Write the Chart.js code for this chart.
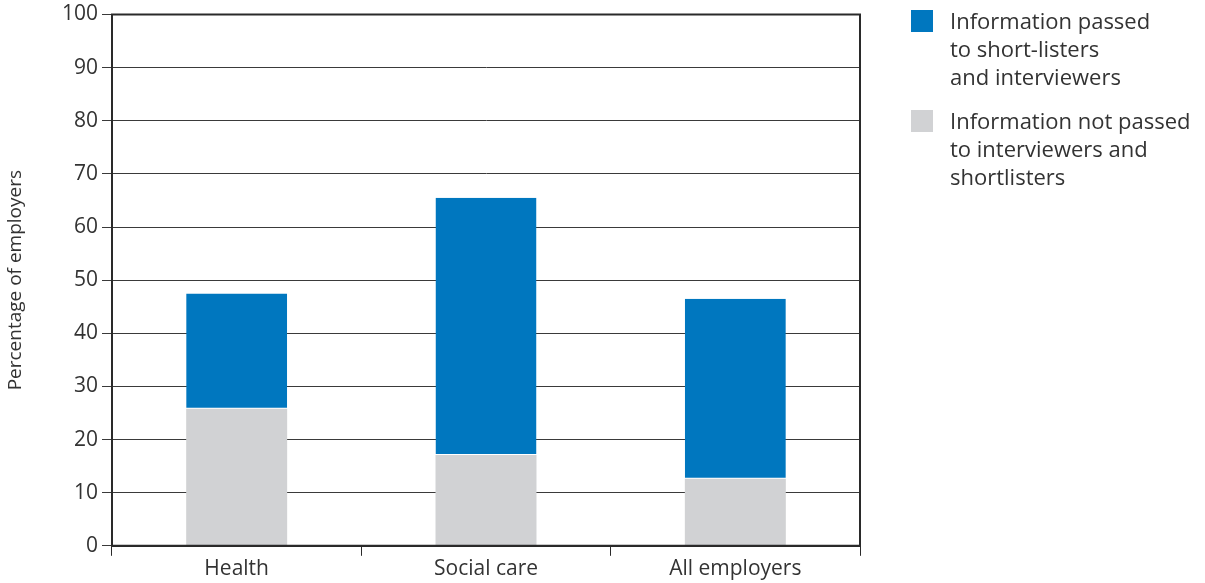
<!DOCTYPE html>
<html>
<head>
<meta charset="utf-8">
<script src="https://cdn.jsdelivr.net/npm/chart.js@4/dist/chart.umd.min.js"></script>
<style>
  html, body { margin: 0; padding: 0; background: #fff; }
  #wrap { position: relative; width: 1205px; height: 583px; }
  #c { position: absolute; left: 0; top: 0; }
  .legend { position: absolute; left: 911px; top: 6px; font-family: "Open Sans", sans-serif; font-size: 22px; color: #333; line-height: 28px; }
  .item { position: relative; padding-left: 39px; margin-bottom: 16px; white-space: nowrap; }
  .box { position: absolute; left: 0; top: 4px; width: 22px; height: 22px; }
</style>
</head>
<body>
<div id="wrap">
  <canvas id="c" width="1205" height="583"></canvas>
  <div class="legend" id="legend"></div>
</div>
<script>
const categories = ["Health", "Social care", "All employers"];
const passedValues = [21.7, 48.4, 33.9];
const notPassedValues = [25.8, 17.1, 12.6];
const seriesNames = [
  ["Information passed", "to short-listers", "and interviewers"],
  ["Information not passed", "to interviewers and", "shortlisters"]
];
const seriesColors = ["#0077BF", "#D1D2D4"];
const yTicks = [0, 10, 20, 30, 40, 50, 60, 70, 80, 90, 100];
const yTitle = "Percentage of employers";

// HTML legend
const leg = document.getElementById('legend');
seriesNames.forEach((lines, i) => {
  const d = document.createElement('div');
  d.className = 'item';
  const b = document.createElement('div');
  b.className = 'box';
  b.style.background = seriesColors[i];
  d.appendChild(b);
  lines.forEach(t => { const l = document.createElement('div'); l.textContent = t; d.appendChild(l); });
  leg.appendChild(d);
});

const frame = {
  id: 'frame',
  afterDatasetsDraw(chart) {
    const a = chart.chartArea, ctx = chart.ctx;
    ctx.save();
    ctx.strokeStyle = '#2a2a2a';
    ctx.lineWidth = 2;
    ctx.beginPath();
    ctx.moveTo(a.left, a.bottom);
    ctx.lineTo(a.left, a.top);
    ctx.lineTo(a.right, a.top);
    ctx.lineTo(a.right, a.bottom);
    ctx.lineTo(a.left, a.bottom);
    ctx.stroke();
    ctx.restore();
  }
};

const font = { family: '"Open Sans", sans-serif', size: 21 };
const yFont = { family: '"Open Sans", sans-serif', size: 21, lineHeight: 1.0 };

new Chart(document.getElementById('c'), {
  type: 'bar',
  data: {
    labels: categories,
    datasets: [
      { label: seriesNames[1].join(' '), data: notPassedValues, backgroundColor: seriesColors[1],
        borderWidth: 0, barPercentage: 0.405, categoryPercentage: 1.0 },
      { label: seriesNames[0].join(' '), data: passedValues, backgroundColor: seriesColors[0],
        borderColor: '#ffffff', borderWidth: { bottom: 1, top: 0, left: 0, right: 0 }, borderSkipped: false,
        barPercentage: 0.405, categoryPercentage: 1.0 }
    ]
  },
  options: {
    responsive: false,
    animation: false,
    layout: { padding: { top: 12, right: 345, bottom: 0, left: 4 } },
    plugins: { legend: { display: false }, tooltip: { enabled: false } },
    scales: {
      x: {
        stacked: true,
        grid: { offset: true, drawOnChartArea: false, tickLength: 10, color: '#2a2a2a', lineWidth: 1 },
        border: { display: true, color: '#2a2a2a', width: 2 },
        ticks: { font: font, color: '#333', padding: 1 }
      },
      y: {
        stacked: true,
        min: 0, max: 100,
        afterBuildTicks(axis) { axis.ticks = yTicks.map(v => ({ value: v })); },
        afterFit(axis) { axis.width = 108; },
        grid: { color: '#3a3a3a', lineWidth: 1, tickLength: 10 },
        border: { display: true, color: '#2a2a2a', width: 2 },
        ticks: { font: yFont, color: '#333', padding: 4 },
        title: { display: true, text: yTitle, font: { family: '"Open Sans", sans-serif', size: 19 }, color: '#333', padding: { top: 0, bottom: 0 } }
      }
    }
  },
  plugins: [frame]
});
</script>
</body>
</html>
